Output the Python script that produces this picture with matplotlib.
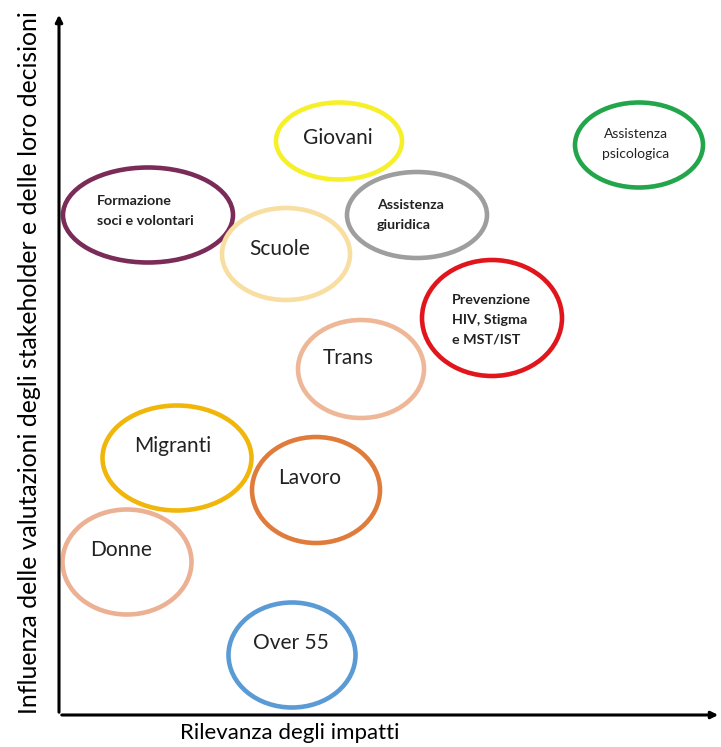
import matplotlib
matplotlib.use("Agg")
from matplotlib import pyplot as plt
from matplotlib.patches import Ellipse

# stakeholder / topic bubbles (x = rilevanza, y = influenza), units from axis origin
labels = ["Giovani", "Assistenza\npsicologica", "Formazione\nsoci e volontari",
          "Assistenza\ngiuridica", "Scuole", "Prevenzione\nHIV, Stigma\ne MST/IST",
          "Trans", "Migranti", "Lavoro", "Donne", "Over 55"]
x_vals = [280, 580, 89, 358, 227, 433, 302, 118, 257, 68, 233]
y_vals = [574, 570, 500, 500, 461, 397, 346, 257, 225, 153, 60]
widths = [126, 128, 170, 140, 128, 140, 126, 149, 128, 129, 127]
heights = [77, 85, 95, 86, 92, 116, 98, 105, 106, 105, 105]
colors = ["#f6f02a", "#23a64b", "#7b2b57", "#9e9e9e", "#f8dea0", "#e1161c",
          "#eeb797", "#f1b60a", "#e07c3b", "#ecb093", "#5b9bd5"]
bold = [False, False, True, True, False, True, False, False, False, False, False]
# label offsets / alignment
text_dx = [-1, -3, -51, -40, -6, -40, -13, -4, -6, -6, -1]
text_dy = [3, 1, 4, 0, 5, -2, 11, 12, 12, 12, 12]
text_ha = ["center", "center", "left", "left", "center", "left",
           "center", "center", "center", "center", "center"]
font_sz = [15, 10, 10.3, 10.3, 15, 10.3, 15, 15, 15, 15, 15]

fig = plt.figure(figsize=(7.21, 7.47), dpi=100)
ax = fig.add_axes([0, 0, 1, 1])
ax.set_xlim(-59, 662)
ax.set_ylim(-32, 715)
ax.axis("off")

for i in range(len(labels)):
    e = Ellipse((x_vals[i], y_vals[i]), widths[i], heights[i], fill=False,
                edgecolor=colors[i], lw=3.3)
    ax.add_patch(e)
    ax.text(x_vals[i] + text_dx[i], y_vals[i] + text_dy[i], labels[i],
            ha=text_ha[i], va="center", fontsize=font_sz[i], family="Lato",
            fontweight="bold" if bold[i] else "normal", color="#222222",
            linespacing=1.75)

# axes with arrows
ax.annotate("", xy=(0, 703), xytext=(0, 0),
            arrowprops=dict(arrowstyle="-|>", lw=2.2, color="black", mutation_scale=10))
ax.annotate("", xy=(662, 0), xytext=(0, 0),
            arrowprops=dict(arrowstyle="-|>", lw=2.2, color="black", mutation_scale=10))

ax.text(-29, 352, "Influenza delle valutazioni degli stakeholder e delle loro decisioni",
        rotation=90, ha="center", va="center", fontsize=17.8, family="Lato", color="black")
ax.text(231, -18, "Rilevanza degli impatti", ha="center", va="center",
        fontsize=16, family="Lato", color="black")

fig.savefig("out.png", dpi=100)
